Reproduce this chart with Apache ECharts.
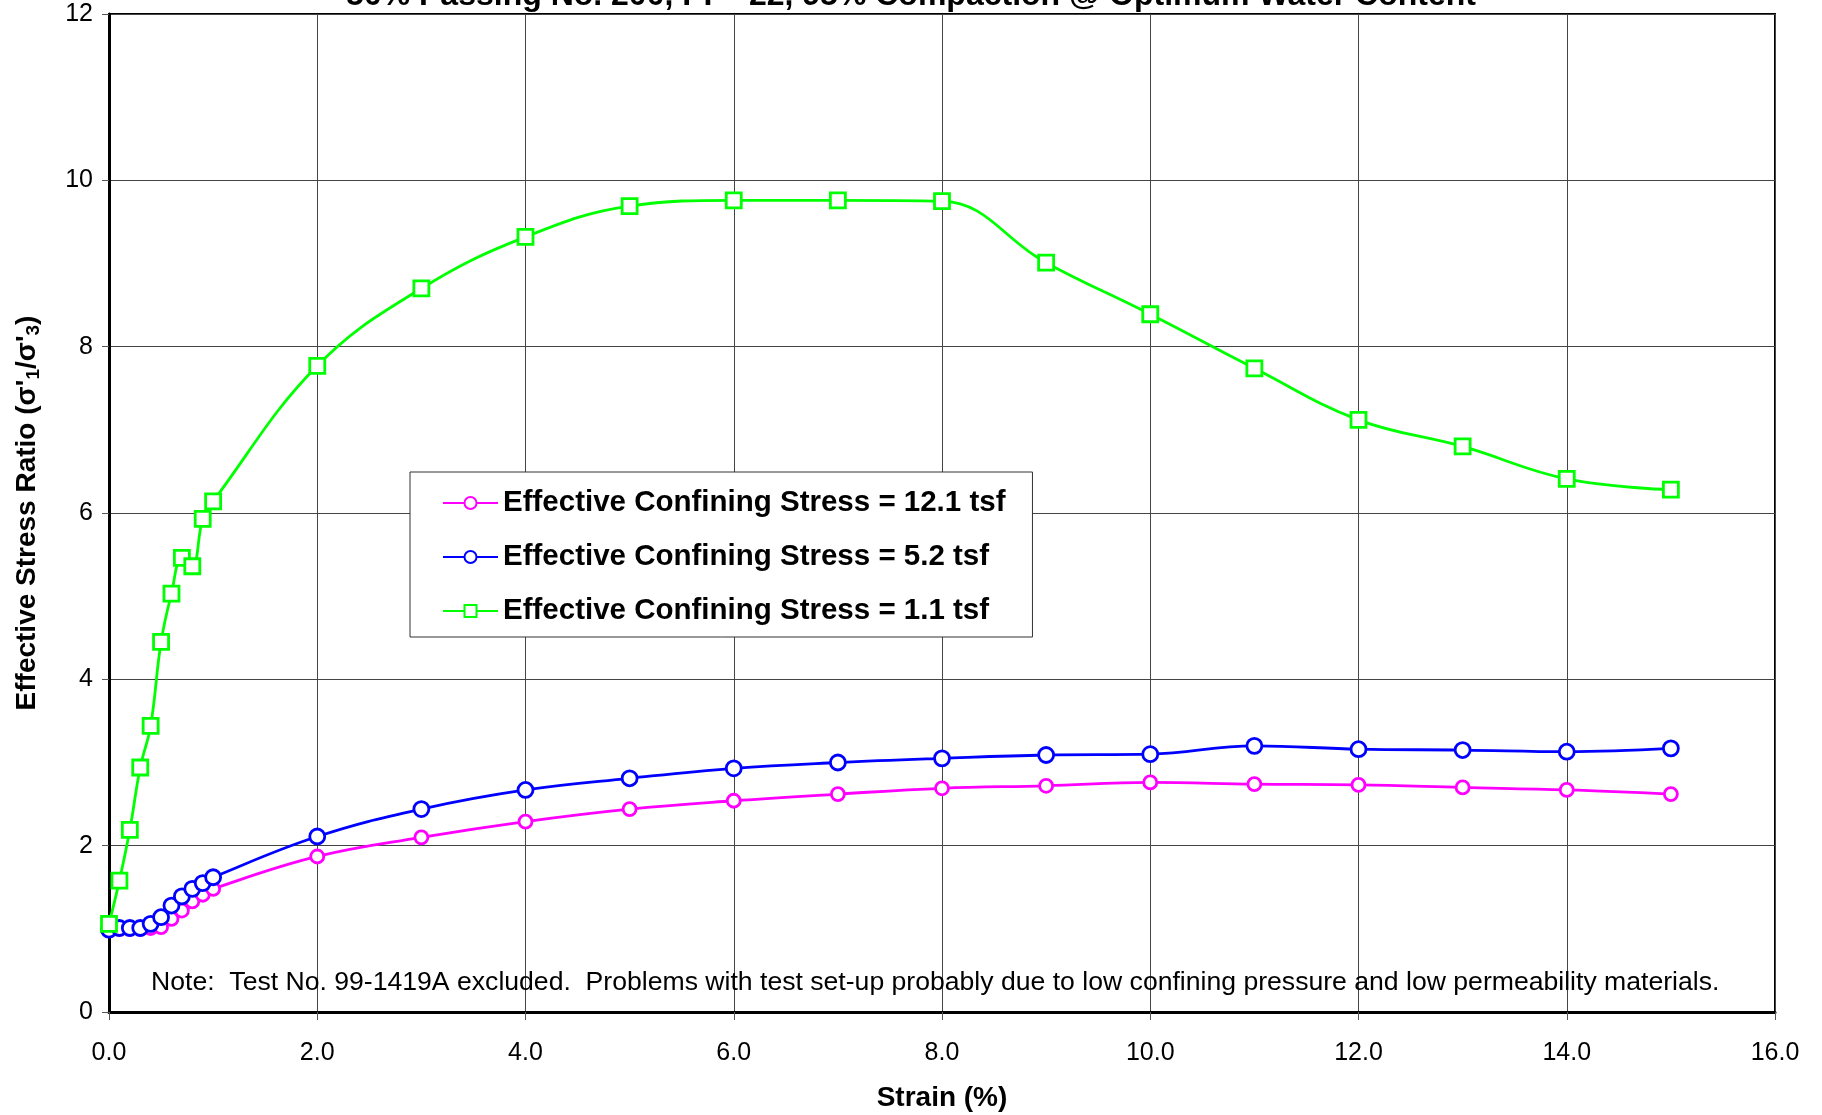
<!DOCTYPE html>
<html>
<head>
<meta charset="utf-8">
<script src="https://cdn.jsdelivr.net/npm/echarts@6/dist/echarts.min.js"></script>
<style>
html,body{margin:0;padding:0;background:#fff;}
#chart{width:1822px;height:1115px;}
</style>
</head>
<body>
<div id="chart"></div>
<script>
// Strain (%) values for each test
const strain = [0, 0.1, 0.2, 0.3, 0.4, 0.5, 0.6, 0.7, 0.8, 0.9, 1.0, 2, 3, 4, 5, 6, 7, 8, 9, 10, 11, 12, 13, 14, 15];
// Effective stress ratio values
const ratio121 = [1.00, 1.00, 1.00, 1.00, 1.01, 1.02, 1.12, 1.22, 1.33, 1.41, 1.48, 1.87, 2.10, 2.29, 2.44, 2.54, 2.62, 2.69, 2.72, 2.76, 2.74, 2.73, 2.70, 2.67, 2.62];
const ratio52  = [0.99, 1.01, 1.01, 1.01, 1.06, 1.14, 1.28, 1.39, 1.48, 1.55, 1.62, 2.11, 2.44, 2.67, 2.81, 2.93, 3.00, 3.05, 3.09, 3.10, 3.20, 3.16, 3.15, 3.13, 3.17];
const ratio11  = [1.06, 1.58, 2.19, 2.94, 3.44, 4.45, 5.03, 5.46, 5.36, 5.93, 6.14, 7.77, 8.70, 9.32, 9.69, 9.76, 9.76, 9.75, 9.01, 8.39, 7.74, 7.12, 6.80, 6.41, 6.28];
const seriesNames = [
  'Effective Confining Stress = 12.1 tsf',
  'Effective Confining Stress = 5.2 tsf',
  'Effective Confining Stress = 1.1 tsf'
];
const xTicks = {min: 0, max: 16, interval: 2};
const yTicks = {min: 0, max: 12, interval: 2};
const titleText = '50% Passing No. 200, PI = 22, 95% Compaction @ Optimum Water Content';
const noteText = 'Note:  Test No. 99-1419A excluded.  Problems with test set-up probably due to low confining pressure and low permeability materials.';

const FONT = 'Arial, "Liberation Sans", Helvetica, sans-serif';
const pair = arr => strain.map((x, i) => [x, arr[i]]);

const chart = echarts.init(document.getElementById('chart'), null, {renderer: 'canvas'});

function mkSeries(name, data, color, symbol, size) {
  return {
    name: name,
    type: 'line',
    data: pair(data),
    smooth: 0.4,
    symbol: symbol,
    symbolSize: size,
    showAllSymbol: true,
    lineStyle: {color: color, width: 2.8},
    itemStyle: {color: '#ffffff', borderColor: color, borderWidth: 2.8},
    emphasis: {disabled: true},
    animation: false
  };
}

chart.setOption({
  animation: false,
  backgroundColor: '#ffffff',
  grid: {
    left: 109, right: 47, top: 14, bottom: 103,
    containLabel: false,
    outerBoundsMode: 'none',
    show: true, borderColor: '#000', borderWidth: 2, backgroundColor: 'transparent'
  },
  legend: {
    orient: 'vertical',
    left: 410, top: 472,
    padding: [16, 27, 11, 32],
    itemGap: 24,
    itemWidth: 55,
    itemHeight: 15,
    backgroundColor: '#fff',
    borderColor: '#333',
    borderWidth: 1,
    borderRadius: 0,
    selectedMode: false,
    textStyle: {fontFamily: FONT, fontSize: 29.5, fontWeight: 'bold', color: '#000', lineHeight: 30},
    data: seriesNames
  },
  xAxis: {
    type: 'value',
    min: xTicks.min, max: xTicks.max, interval: xTicks.interval,
    name: 'Strain (%)',
    nameLocation: 'middle',
    nameGap: 72,
    nameTextStyle: {fontFamily: FONT, fontSize: 28, fontWeight: 'bold', color: '#000', verticalAlign: 'top'},
    axisLine: {show: true, lineStyle: {color: '#000', width: 3}},
    axisTick: {show: true, inside: false, length: 8, lineStyle: {color: '#555', width: 1}},
    axisLabel: {fontFamily: FONT, fontSize: 25, color: '#000', margin: 29, formatter: v => v.toFixed(1)},
    splitLine: {show: true, lineStyle: {color: '#444', width: 1}}
  },
  yAxis: {
    type: 'value',
    min: yTicks.min, max: yTicks.max, interval: yTicks.interval,
    name: "Effective Stress Ratio (σ'{sub|1}/σ'{sub|3})",
    nameLocation: 'middle',
    nameGap: 66,
    nameRotate: 90,
    nameTextStyle: {
      fontFamily: FONT, fontSize: 28, fontWeight: 'bold', color: '#000',
      rich: {sub: {fontFamily: FONT, fontSize: 19, fontWeight: 'bold', color: '#000', verticalAlign: 'bottom', padding: [12, 0, 0, 0]}}
    },
    axisLine: {show: true, lineStyle: {color: '#000', width: 3}},
    axisTick: {show: true, inside: false, length: 7, lineStyle: {color: '#555', width: 1}},
    axisLabel: {fontFamily: FONT, fontSize: 25, color: '#000', margin: 16},
    splitLine: {show: true, lineStyle: {color: '#444', width: 1}}
  },
  graphic: [
    {
      type: 'text', left: 'center', top: -20, z: 100,
      style: {text: titleText, fontFamily: FONT, fontSize: 32, fontWeight: 'bold', fill: '#000'}
    },
    {
      type: 'text', left: 151, top: 969, z: 100,
      style: {text: noteText, fontFamily: FONT, fontSize: 26.6, fill: '#000'}
    }
  ],
  series: [
    mkSeries(seriesNames[0], ratio121, '#ff00ff', 'circle', 13),
    mkSeries(seriesNames[1], ratio52, '#0000ff', 'circle', 15),
    mkSeries(seriesNames[2], ratio11, '#00ff00', 'rect', 15)
  ]
});
</script>
</body>
</html>
